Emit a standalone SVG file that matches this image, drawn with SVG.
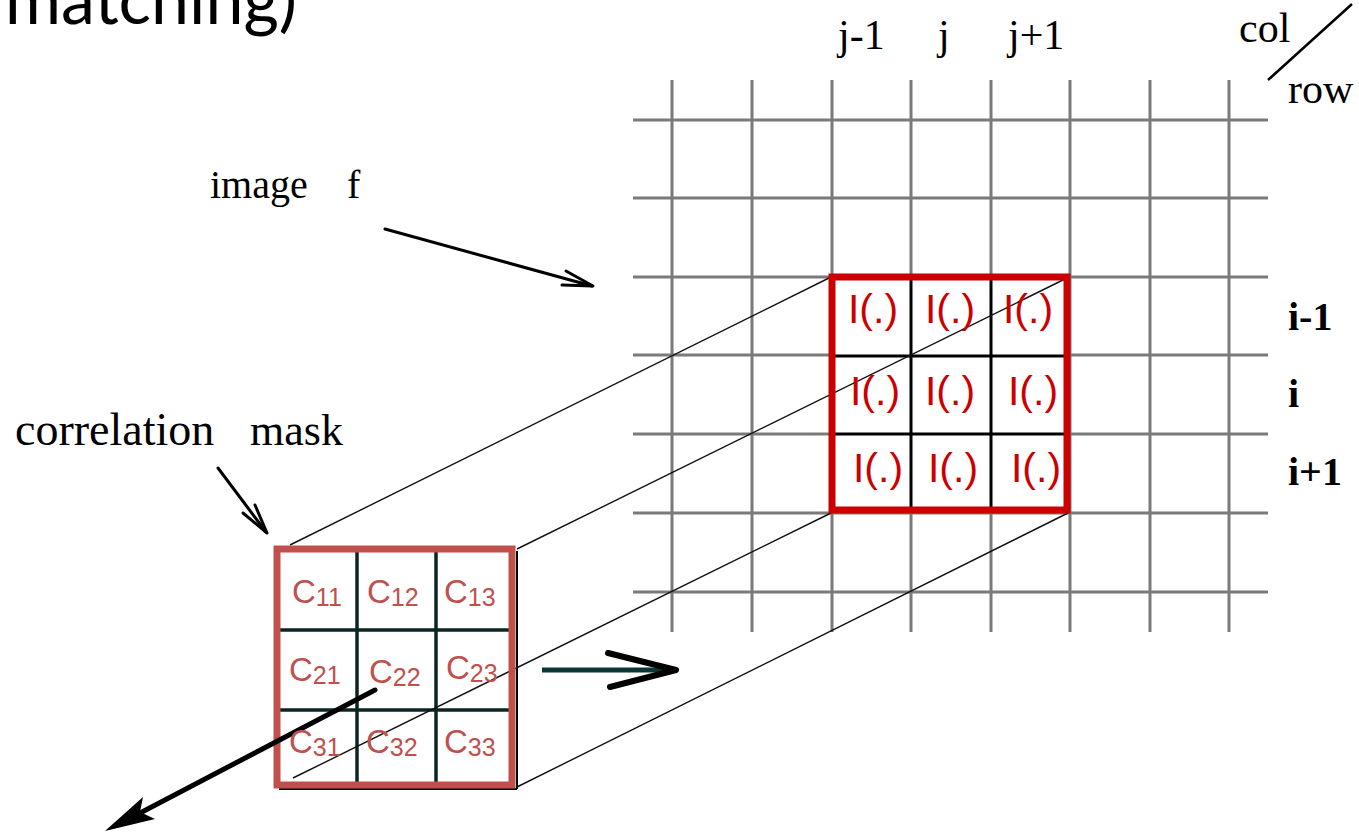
<svg xmlns="http://www.w3.org/2000/svg" width="1359" height="832" viewBox="0 0 1359 832">
<style>
.grid line{stroke:#7a7a7a;stroke-width:3}
.serif{font-family:"Liberation Serif","Times New Roman",serif;fill:#000}
.proj{stroke:#111;stroke-width:1.4;fill:none}
.inner{stroke:#000;stroke-width:3}
.minner{stroke:#0d2424;stroke-width:3.5}
.itxt{font-family:"Liberation Sans",Arial,sans-serif;font-size:41px;fill:#cc0000;text-anchor:middle}
.ctxt{font-family:"Liberation Sans",Arial,sans-serif;font-size:33px;fill:#c0504d}
.sub{font-size:25px}
.arr{stroke:#000;fill:none;stroke-linecap:round;stroke-linejoin:round}
</style>
<rect width="1359" height="832" fill="#fff"/>
<text id="title" x="5" y="24" font-family="Lato,'Open Sans',sans-serif" font-size="70" textLength="292" lengthAdjust="spacingAndGlyphs" fill="#000">matching)</text>

<g id="image-grid" class="grid">
<line x1="672" y1="80" x2="672" y2="632"/>
<line x1="752" y1="80" x2="752" y2="632"/>
<line x1="832" y1="80" x2="832" y2="632"/>
<line x1="911" y1="80" x2="911" y2="632"/>
<line x1="991" y1="80" x2="991" y2="632"/>
<line x1="1070" y1="80" x2="1070" y2="632"/>
<line x1="1150" y1="80" x2="1150" y2="632"/>
<line x1="1229" y1="80" x2="1229" y2="632"/>
<line x1="633" y1="120" x2="1268" y2="120"/>
<line x1="633" y1="198" x2="1268" y2="198"/>
<line x1="633" y1="277" x2="1268" y2="277"/>
<line x1="633" y1="355" x2="1268" y2="355"/>
<line x1="633" y1="434" x2="1268" y2="434"/>
<line x1="633" y1="513" x2="1268" y2="513"/>
<line x1="633" y1="592" x2="1268" y2="592"/>
</g>

<g id="labels" class="serif">
<text x="838" y="49" font-size="42">j-1</text>
<text x="938" y="49" font-size="42">j</text>
<text x="1008" y="49" font-size="42">j+1</text>
<text x="1239" y="42" font-size="42">col</text>
<text x="1288" y="103" font-size="42">row</text>
<text x="1288" y="330" font-size="40" font-weight="bold">i-1</text>
<text x="1288" y="407" font-size="40" font-weight="bold">i</text>
<text x="1288" y="485" font-size="40" font-weight="bold">i+1</text>
<text x="210" y="198" font-size="40">image</text>
<text x="347" y="198" font-size="40">f</text>
<text x="15" y="445" font-size="46">correlation</text>
<text x="250" y="445" font-size="44">mask</text>
</g>
<line x1="1268" y1="80" x2="1352" y2="4" stroke="#000" stroke-width="2.5"/>

<g id="window">
<rect x="832" y="277" width="235" height="233" fill="#fff"/>
<line class="inner" x1="911" y1="277" x2="911" y2="510"/>
<line class="inner" x1="991" y1="277" x2="991" y2="510"/>
<line class="inner" x1="832" y1="356" x2="1067" y2="356"/>
<line class="inner" x1="832" y1="434" x2="1067" y2="434"/>
</g>

<g id="mask">
<rect x="277" y="549" width="235" height="236" fill="#fff"/>
<line x1="517" y1="551" x2="517" y2="789" stroke="#000" stroke-width="2"/>
<line x1="279" y1="789" x2="517" y2="789" stroke="#000" stroke-width="2"/>
<line class="minner" x1="357" y1="549" x2="357" y2="785"/>
<line class="minner" x1="436" y1="549" x2="436" y2="785"/>
<line class="minner" x1="277" y1="630" x2="512" y2="630"/>
<line class="minner" x1="277" y1="710" x2="512" y2="710"/>
</g>

<g id="connectors">
<line class="proj" x1="290" y1="545" x2="831" y2="277"/>
<line class="proj" x1="517" y1="549" x2="1065" y2="279"/>
<line class="proj" x1="293" y1="778" x2="831" y2="513"/>
<line class="proj" x1="517" y1="787" x2="1068" y2="513"/>
<rect x="832" y="277" width="235" height="233" fill="none" stroke="#cc0000" stroke-width="7"/>
<rect x="277" y="549" width="235" height="236" fill="none" stroke="#c0504d" stroke-width="7"/>
<line class="arr" x1="385" y1="229" x2="592" y2="286" stroke-width="3"/>
<polyline class="arr" points="566,271 593,286 562,285" stroke-width="3"/>
<line class="arr" x1="218" y1="468" x2="266" y2="532" stroke-width="3"/>
<polyline class="arr" points="243,513 267,533 255,505" stroke-width="3"/>
<line x1="542" y1="670" x2="672" y2="670" stroke="#0d3535" stroke-width="5"/>
<polyline class="arr" points="608,653 676,670 610,687" stroke-width="6"/>
<line class="arr" x1="375" y1="690" x2="142" y2="812" stroke-width="5"/>
<polygon points="105,831 143,797 140,812 155,819" fill="#000"/>
</g>

<g id="window-text">
<text class="itxt" x="873" y="323">I(.)</text>
<text class="itxt" x="950" y="323">I(.)</text>
<text class="itxt" x="1028" y="323">I(.)</text>
<text class="itxt" x="875" y="405">I(.)</text>
<text class="itxt" x="950" y="405">I(.)</text>
<text class="itxt" x="1033" y="405">I(.)</text>
<text class="itxt" x="878" y="482">I(.)</text>
<text class="itxt" x="953" y="482">I(.)</text>
<text class="itxt" x="1036" y="482">I(.)</text>
</g>

<g id="mask-text">
<text class="ctxt" x="292" y="603">C<tspan class="sub" dy="3">11</tspan></text>
<text class="ctxt" x="367" y="603">C<tspan class="sub" dy="3">12</tspan></text>
<text class="ctxt" x="444" y="603">C<tspan class="sub" dy="3">13</tspan></text>
<text class="ctxt" x="289" y="681">C<tspan class="sub" dy="3">21</tspan></text>
<text class="ctxt" x="369" y="683">C<tspan class="sub" dy="3">22</tspan></text>
<text class="ctxt" x="446" y="679">C<tspan class="sub" dy="3">23</tspan></text>
<text class="ctxt" x="289" y="753">C<tspan class="sub" dy="3">31</tspan></text>
<text class="ctxt" x="366" y="753">C<tspan class="sub" dy="3">32</tspan></text>
<text class="ctxt" x="444" y="753">C<tspan class="sub" dy="3">33</tspan></text>
</g>
</svg>
